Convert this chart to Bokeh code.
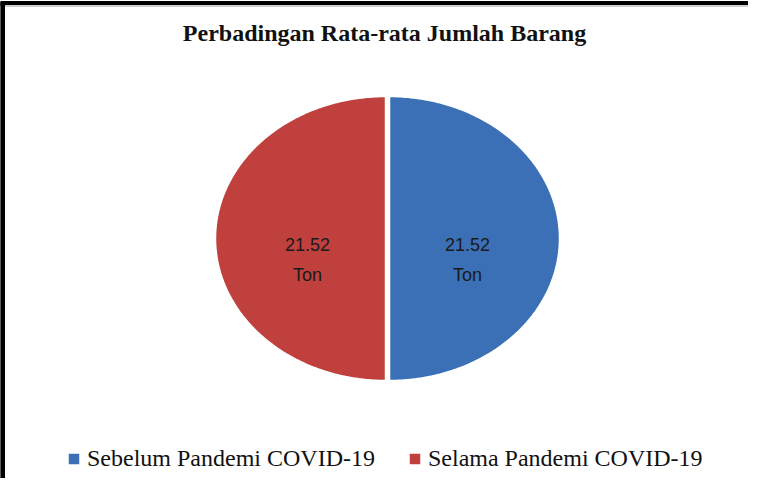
import numpy as np
from bokeh.plotting import figure
from bokeh.models import Range1d, Legend, LegendItem
from bokeh.core.properties import value
from bokeh.embed import file_html
from bokeh.resources import INLINE

# ---- data ----
title_text = "Perbadingan Rata-rata Jumlah Barang"
categories = ["Sebelum Pandemi COVID-19", "Selama Pandemi COVID-19"]
values = [21.52, 21.52]
unit = "Ton"
colors = ["#3C70B6", "#BF403D"]

W, H = 748, 478
p = figure(width=W, height=H, output_backend="svg", toolbar_location=None,
           x_range=Range1d(0, W), y_range=Range1d(0, H), min_border=0)
p.axis.visible = False
p.grid.visible = False
p.outline_line_color = None
p.background_fill_color = "white"
p.border_fill_color = "white"

# frame borders (top and left, cropped chart border)
p.quad(left=[0], right=[W], bottom=[H - 5], top=[H - 1], color="black")
p.quad(left=[0], right=[W], bottom=[H - 6], top=[H - 5], color="#cfcfcf")
p.quad(left=[0], right=[4], bottom=[0], top=[H - 2], color="black")

# title
p.text(x=[384], y=[H - 32], text=[title_text], text_align="center",
       text_baseline="middle", text_font=value("Liberation Serif"),
       text_font_style="bold", text_font_size="24px", text_color="#111111")

# pie (elliptical, slight explosion)
cx, cy = 387, 240
rx, ry = 170, 142
explode = 2
total = sum(values)
start = np.pi / 2
renderers = []
for v, c, name in zip(values, colors, categories):
    sweep = 2 * np.pi * v / total
    a = np.linspace(start, start - sweep, 200)
    mid = start - sweep / 2
    ox, oy = explode * np.cos(mid), explode * np.sin(mid)
    xs = np.concatenate([[cx + ox], cx + ox + rx * np.cos(a)])
    ys = np.concatenate([[cy + oy], cy + oy + ry * np.sin(a)])
    r = p.patches(xs=[list(xs)], ys=[list(ys)], fill_color=c,
                  line_color="white", line_width=1.5)
    renderers.append((name, r))
    lx = cx + 0.47 * rx * np.cos(mid)
    ly = cy
    p.text(x=[lx], y=[ly - 6], text=[f"{v:.2f}"], text_align="center",
           text_baseline="middle", text_font=value("Liberation Sans"),
           text_font_size="18px", text_color="#1a1a1a")
    p.text(x=[lx], y=[ly - 36], text=[unit], text_align="center",
           text_baseline="middle", text_font=value("Liberation Sans"),
           text_font_size="18px", text_color="#1a1a1a")
    start -= sweep

legend = Legend(items=[LegendItem(label=n, renderers=[r]) for n, r in renderers],
                orientation="horizontal", location=(66, 6),
                label_text_font="Liberation Serif", label_text_font_size="24px",
                label_text_color="#111111", glyph_width=15, glyph_height=15,
                spacing=32, label_standoff=6, padding=0, margin=0,
                border_line_alpha=0, background_fill_alpha=0)
p.add_layout(legend)

open("out.html", "w").write(file_html(p, INLINE))
